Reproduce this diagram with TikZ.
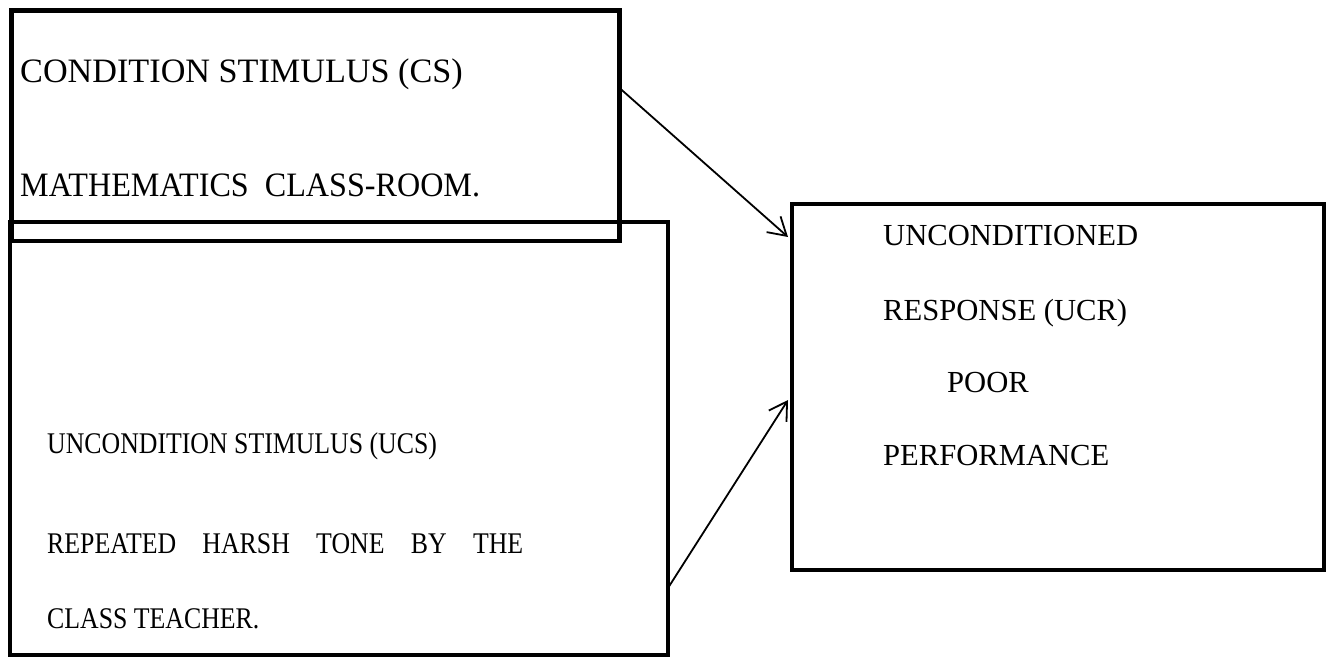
\documentclass[tikz,border=0pt]{standalone}
\usepackage{fontspec}
\setmainfont{Liberation Serif}
\newfontfamily\condserif[FakeStretch=0.86]{Liberation Serif}
\usetikzlibrary{positioning,arrows.meta,calc}
\tikzset{
  frame/.style ={draw=black, line width=4.5pt, inner sep=0pt, outer sep=0pt, anchor=north west},
  txt/.style   ={inner sep=0pt, anchor=base west, font=\fontsize{34.2}{38}\selectfont},
  ctxt/.style  ={txt, font=\condserif\fontsize{30}{34}\selectfont},
  rtxt/.style  ={txt, font=\fontsize{30.6}{34}\selectfont},
  link/.style  ={-{Straight Barb[length=17.5pt,width=21pt,line width=1.8pt]}, line width=1.8pt, draw=black},
}
\begin{document}
\begin{tikzpicture}[x=1pt, y=-1pt]
  \useasboundingbox (0,0) rectangle (1333,658);
  % boxes
  \node[frame, minimum width=608pt, minimum height=230.5pt] (cs) at (11.5,10.5) {};
  \node[frame, minimum width=658pt, minimum height=433pt] (ucs) at (10,222) {};
  \node[frame, minimum width=532pt, minimum height=366pt] (ucr) at (792,204) {};
  % texts
  \node[txt] (csa) at (20,82.3) {CONDITION STIMULUS (CS)};
  \node[txt] (csb) at (20,196.7) {\scalebox{0.94}[1]{MATHEMATICS\ \ CLASS-ROOM.}};
  \node[ctxt] (ucsa) at (47,453) {UNCONDITION STIMULUS (UCS)};
  \node[ctxt] (ucsb) at (47,553) {\makebox[476pt][s]{REPEATED HARSH TONE BY THE}};
  \node[ctxt] (ucsc) at (47,628) {CLASS TEACHER.};
  \node[rtxt] (ucra) at (883,245) {UNCONDITIONED};
  \node[rtxt] (ucrb) at (883,320) {RESPONSE (UCR)};
  \node[rtxt] (ucrc) at (947,392) {POOR};
  \node[rtxt] (ucrd) at (883,465) {PERFORMANCE};
  % arrows
  \draw[link] ([yshift=37.75pt]cs.east) -- ([xshift=-4pt,yshift=150pt]ucr.west);
  \draw[link] ([yshift=-149.5pt]ucs.east) -- ([xshift=-4pt,yshift=-13pt]ucr.west);
\end{tikzpicture}
\end{document}
